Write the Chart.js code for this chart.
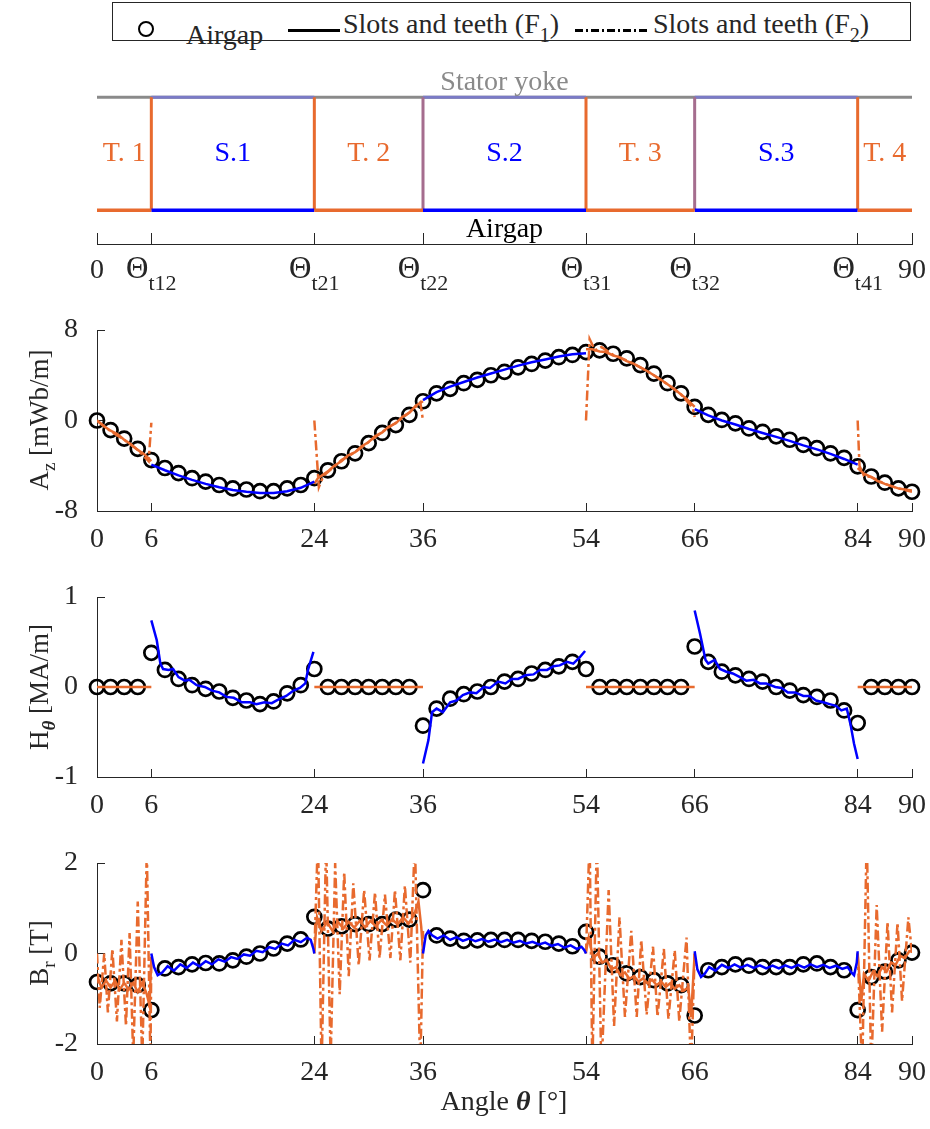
<!DOCTYPE html>
<html>
<head>
<meta charset="utf-8">
<title>Airgap / slots and teeth field comparison</title>
<script src="https://cdn.jsdelivr.net/npm/chart.js@4.4.0/dist/chart.umd.min.js"></script>
<style>
	body { margin: 0; background: #fff; font-family: 'Liberation Serif', 'Times New Roman', serif; color: #262626; }
	#page { position: relative; width: 930px; height: 1129px; overflow: hidden; }
	canvas { position: absolute; left: 0; }
	.txt { position: absolute; font-size: 28px; line-height: 28px; white-space: nowrap; }
	.sb { font-size: 20px; position: relative; top: 9px; }
	.ytitle { position: absolute; font-size: 27px; line-height: 27px; white-space: nowrap; transform: translate(-50%, -50%) rotate(-90deg); }
	.ysb { font-size: 19px; position: relative; top: 7px; }
</style>
</head>
<body>
<div id="page">

	<!-- legend -->
	<div style="position:absolute; left:112px; top:2px; width:797px; height:37px; border:1px solid #262626;"></div>
	<div style="position:absolute; left:138px; top:21px; width:12px; height:12px; border:2.8px solid #000; border-radius:50%;"></div>
	<div class="txt" style="left:186px; top:21px;">Airgap</div>
	<div style="position:absolute; left:288px; top:29px; width:52px; height:2.5px; background:#000;"></div>
	<div class="txt" style="left:343px; top:10px;">Slots and teeth (F<span class="sb">1</span>)</div>
	<div style="position:absolute; left:575px; top:29px; width:75px; height:2.5px; background:repeating-linear-gradient(to right, #000 0 8px, transparent 8px 11px, #000 11px 13px, transparent 13px 16px);"></div>
	<div class="txt" style="left:653px; top:10px;">Slots and teeth (F<span class="sb">2</span>)</div>

	<canvas id="schem" width="930" height="244" style="top:50px;"></canvas>
	<canvas id="azChart" width="930" height="261" style="top:300px;"></canvas>
	<canvas id="hChart" width="930" height="260" style="top:567px;"></canvas>
	<canvas id="brChart" width="930" height="261" style="top:833px;"></canvas>

	<div class="ytitle" style="left:40px; top:420px;">A<span class="ysb">z</span> [mWb/m]</div>
	<div class="ytitle" style="left:40px; top:687px;">H<span class="ysb"><b><i>θ</i></b></span> [MA/m]</div>
	<div class="ytitle" style="left:40px; top:953px;">B<span class="ysb">r</span> [T]</div>
	<div class="txt" style="left:504px; top:1101px; transform:translate(-50%,-50%);">Angle <b><i>θ</i></b> [°]</div>
</div>

<script type="text/javascript">
// ---- data ----
// angular positions (deg) of the slot / tooth boundaries
const xTicks = [0, 6, 24, 36, 54, 66, 84, 90];
const boundaryLabels = [['0', ''], ['Θ', 't12'], ['Θ', 't21'], ['Θ', 't22'], ['Θ', 't31'], ['Θ', 't32'], ['Θ', 't41'], ['90', '']];

// regions of the schematic
const toothSpans = [[0, 6], [24, 36], [54, 66], [84, 90]];
const slotSpans = [[6, 24], [36, 54], [66, 84]];
const regionNames = ['T. 1', 'S.1', 'T. 2', 'S.2', 'T. 3', 'S.3', 'T. 4'];
const regionCentres = [3, 15, 30, 45, 60, 75, 87];

// airgap samples (circles)
const theta = [0, 1.5, 3, 4.5, 6, 7.5, 9, 10.5, 12, 13.5, 15, 16.5, 18, 19.5, 21, 22.5, 24, 25.5, 27, 28.5,
	30, 31.5, 33, 34.5, 36, 37.5, 39, 40.5, 42, 43.5, 45, 46.5, 48, 49.5, 51, 52.5, 54, 55.5, 57, 58.5,
	60, 61.5, 63, 64.5, 66, 67.5, 69, 70.5, 72, 73.5, 75, 76.5, 78, 79.5, 81, 82.5, 84, 85.5, 87, 88.5, 90];

const azAirgap = [0, -0.85, -1.6, -2.5, -3.5, -4.2, -4.65, -5.1, -5.4, -5.7,
	-6.0, -6.1, -6.25, -6.25, -6.0, -5.7, -5.1, -4.4, -3.6, -2.9,
	-2.0, -1.1, -0.4, 0.5, 1.7, 2.4, 2.8, 3.3, 3.6, 4.0,
	4.3, 4.7, 5.0, 5.3, 5.6, 5.8, 6.05, 6.2, 5.9, 5.5,
	4.9, 4.15, 3.3, 2.4, 1.2, 0.5, 0.05, -0.25, -0.7, -1.0,
	-1.4, -1.7, -2.15, -2.45, -2.9, -3.3, -4.05, -4.95, -5.5, -6.0,
	-6.3];

const hAirgap = [0, 0, 0, 0, 0.38, 0.19, 0.09, 0.02, -0.02, -0.05,
	-0.12, -0.15, -0.19, -0.16, -0.07, 0.02, 0.2, 0, 0, 0,
	0, 0, 0, 0, -0.43, -0.24, -0.13, -0.08, -0.05, 0.0,
	0.06, 0.09, 0.15, 0.19, 0.23, 0.28, 0.2, 0, 0, 0,
	0, 0, 0, 0, 0.45, 0.28, 0.17, 0.13, 0.09, 0.06,
	0.0, -0.04, -0.09, -0.11, -0.15, -0.26, -0.4, 0, 0, 0,
	0];

const brAirgap = [-0.63, -0.66, -0.66, -0.7, -1.25, -0.33, -0.3, -0.24, -0.21, -0.22,
	-0.15, -0.07, 0.0, 0.11, 0.22, 0.31, 0.81, 0.55, 0.6, 0.65,
	0.65, 0.65, 0.75, 0.75, 1.4, 0.4, 0.33, 0.28, 0.29, 0.3,
	0.3, 0.3, 0.28, 0.26, 0.22, 0.16, 0.48, -0.07, -0.26, -0.44,
	-0.52, -0.59, -0.66, -0.7, -1.37, -0.37, -0.3, -0.24, -0.27, -0.3,
	-0.3, -0.3, -0.24, -0.22, -0.3, -0.37, -1.25, -0.52, -0.4, -0.15,
	0.02];

// A_z, slots and teeth (null = break between regions)
const azSlotX = [6, 7.5, 9, 10.5, 12, 13.5, 15, 16.5, 18, 19.5, 21, 22.5, 24, null,
	36, 37.5, 39, 40.5, 42, 43.5, 45, 46.5, 48, 49.5, 51, 52.5, 54, null,
	66, 67.5, 69, 70.5, 72, 73.5, 75, 76.5, 78, 79.5, 81, 82.5, 84];
const azSlotY = [-3.9, -4.4, -4.85, -5.25, -5.6, -5.9, -6.15, -6.3, -6.4, -6.4, -6.25, -5.95, -5.4, null,
	1.8, 2.5, 3.0, 3.4, 3.8, 4.15, 4.5, 4.85, 5.15, 5.4, 5.65, 5.85, 5.95, null,
	1.0, 0.45, 0.0, -0.35, -0.75, -1.1, -1.45, -1.8, -2.2, -2.55, -2.95, -3.4, -3.9];

const azToothX = [0, 0.75, 1.5, 2.25, 3, 3.75, 4.5, 5.25, 6, null,
	24, 24.4, 25.5, 26.2, 27, 27.7, 28.5, 29.2, 30, 30.7, 31.5, 32.2, 33, 33.7, 34.5, 35.2, 36, null,
	54, 54.7, 55.5, 56.2, 57, 57.7, 58.5, 59.2, 60, 60.7, 61.5, 62.2, 63, 63.7, 64.5, 65.2, 66, null,
	84, 84.7, 85.5, 86.2, 87, 87.7, 88.5, 89.2, 90];
const azToothY = [0, -0.5, -0.9, -1.2, -1.7, -2.1, -2.6, -3.0, -3.6, null,
	-5.6, -5.1, -4.5, -4.0, -3.6, -3.1, -2.8, -2.3, -1.9, -1.4, -1.05, -0.55, -0.25, 0.3, 0.7, 1.3, 1.7, null,
	6.3, 6.3, 6.1, 6.05, 5.75, 5.6, 5.25, 5.05, 4.7, 4.4, 4.0, 3.65, 3.2, 2.8, 2.3, 1.85, 1.2, null,
	-4.2, -4.7, -5.0, -5.35, -5.6, -5.8, -6.0, -6.1, -6.2];

const azF2X = [0, 1.5, 3, 4.5, 5.7, 6, null,
	24, 24.5, 25, 26, 27, 28.5, 30, 31.5, 33, 34.5, 35.7, 36, null,
	54, 54.4, 55, 55.7, 57, 58.5, 60, 61.5, 63, 64.5, 65.8, 66, null,
	84, 84.2, 84.7, 85.5, 87, 88.5, 90];
const azF2Y = [0, -0.95, -1.7, -2.6, -3.6, -0.2, null,
	0, -5.9, -4.9, -4.2, -3.5, -2.8, -1.9, -1.0, -0.2, 0.7, 1.6, 0, null,
	0, 7.2, 6.2, 6.5, 5.8, 5.3, 4.7, 4.0, 3.2, 2.3, 1.1, 0.3, null,
	0, -4.0, -4.9, -5.0, -5.6, -6.0, -6.3];

// H_theta
const hSlotX = [6.0, 6.6, 7.0, 7.3, 7.9, 8.4, 9.0, 9.7, 10.2, 11.0, 11.9, 12.7, 13.5, 14.3, 15.1, 16.0, 16.9, 17.6, 18.5, 19.3,
	20.2, 20.9, 21.7, 22.4, 23.0, 23.3, 23.9, null,
	36.0, 36.6, 37.0, 37.5, 38.2, 39.0, 39.7, 40.4, 41.2, 41.9, 42.7, 43.4, 44.3, 45.1, 45.8, 46.5, 47.3, 48.2, 48.9, 49.7,
	50.4, 51.1, 51.9, 52.6, 53.3, 53.9, null,
	66.0, 66.6, 67.2, 67.5, 68.2, 68.8, 69.5, 70.2, 71.0, 71.7, 72.5, 73.2, 73.9, 74.9, 75.6, 76.3, 77.1, 78.0, 78.7, 79.4,
	80.2, 80.9, 81.6, 82.2, 82.8, 83.2, 83.6, 84.0];
const hSlotY = [0.74, 0.52, 0.26, 0.2, 0.19, 0.2, 0.11, 0.07, 0.08, 0.02, 0.0, -0.04, -0.06, -0.11, -0.12, -0.17, -0.17, -0.19, -0.17, -0.18,
	-0.13, -0.1, -0.04, -0.01, 0.04, 0.19, 0.39, null,
	-0.85, -0.59, -0.28, -0.24, -0.28, -0.17, -0.15, -0.09, -0.06, -0.07, 0.0, -0.01, 0.06, 0.04, 0.09, 0.09, 0.13, 0.14, 0.19, 0.19,
	0.23, 0.24, 0.28, 0.26, 0.33, 0.4, null,
	0.85, 0.59, 0.3, 0.26, 0.3, 0.2, 0.17, 0.15, 0.11, 0.07, 0.08, 0.04, 0.04, 0.0, -0.01, -0.06, -0.06, -0.1, -0.1, -0.15,
	-0.17, -0.19, -0.21, -0.26, -0.24, -0.41, -0.63, -0.8];
const hToothX = [0, 6, null, 24, 36, null, 54, 66, null, 84, 90];
const hToothY = [0, 0, null, 0, 0, null, 0, 0, null, 0, 0];

// B_r
const brSlotX = [6.0, 6.3, 6.7, 7.2, 7.8, 8.5, 9.2, 9.9, 10.6, 11.3, 12.0, 12.7, 13.4, 14.1, 14.8, 15.5, 16.2, 16.9, 17.6, 18.3,
	19.0, 19.7, 20.4, 21.1, 21.8, 22.5, 23.2, 23.6, 23.9, 24.0, null,
	36.0, 36.3, 36.6, 37.0, 37.6, 38.3, 39.0, 39.7, 40.4, 41.1, 41.8, 42.5, 43.2, 43.9, 44.6, 45.3, 46.0, 46.7, 47.4, 48.1,
	48.8, 49.5, 50.2, 50.9, 51.6, 52.3, 53.0, 53.5, 53.8, 54.0, null,
	66.0, 66.3, 66.7, 67.1, 67.6, 68.3, 69.0, 69.7, 70.4, 71.1, 71.8, 72.5, 73.2, 73.9, 74.6, 75.3, 76.0, 76.7, 77.4, 78.1,
	78.8, 79.5, 80.2, 80.9, 81.6, 82.3, 82.9, 83.3, 83.6, 83.9, 84.0];
const brSlotY = [0.0, -0.3, -0.48, -0.42, -0.28, -0.38, -0.24, -0.32, -0.2, -0.28, -0.17, -0.24, -0.13, -0.18, -0.08, -0.12, -0.02, -0.05, 0.06, 0.03,
	0.14, 0.1, 0.22, 0.18, 0.3, 0.25, 0.35, 0.3, 0.1, 0.0, null,
	0.0, 0.4, 0.5, 0.4, 0.33, 0.4, 0.3, 0.36, 0.28, 0.33, 0.27, 0.32, 0.26, 0.31, 0.25, 0.3, 0.24, 0.28, 0.22, 0.26,
	0.2, 0.24, 0.17, 0.21, 0.13, 0.18, 0.1, 0.15, 0.08, 0.0, null,
	0.05, -0.35, -0.52, -0.45, -0.3, -0.38, -0.25, -0.32, -0.24, -0.31, -0.25, -0.32, -0.26, -0.33, -0.27, -0.33, -0.26, -0.32, -0.25, -0.31,
	-0.24, -0.3, -0.25, -0.32, -0.27, -0.34, -0.3, -0.42, -0.48, -0.2, 0.05];

const brToothX = [0, 0.5, 1.0, 1.5, 2.0, 2.5, 3.0, 3.5, 4.0, 4.5, 5.0, 5.5, 5.8, 6.0, null,
	24.0, 24.3, 24.8, 25.4, 26.0, 26.6, 27.2, 27.8, 28.4, 29.0, 29.6, 30.2, 30.8, 31.4, 32.0, 32.6, 33.2, 33.8, 34.4, 35.0, 35.5, 35.8, 36.0, null,
	54.0, 54.3, 54.8, 55.3, 55.8, 56.3, 56.8, 57.3, 57.8, 58.3, 58.8, 59.3, 59.8, 60.3, 60.8, 61.3, 61.8, 62.3, 62.8, 63.3, 63.8, 64.3, 64.8, 65.3, 65.6, 66.0, null,
	84.0, 84.4, 84.7, 85.2, 85.7, 86.2, 86.7, 87.2, 87.7, 88.2, 88.7, 89.2, 89.7, 90.0];
const brToothY = [-0.5, -0.75, -0.6, -0.75, -0.6, -0.8, -0.65, -0.8, -0.65, -0.85, -0.65, -0.9, -1.15, -0.1, null,
	0.05, 0.8, 0.5, 0.7, 0.5, 0.7, 0.55, 0.7, 0.57, 0.72, 0.58, 0.72, 0.6, 0.74, 0.62, 0.76, 0.64, 0.8, 0.66, 0.85, 1.15, 0.6, 0.05, null,
	0.05, 0.35, -0.1, 0.0, -0.2, -0.15, -0.35, -0.3, -0.48, -0.42, -0.56, -0.5, -0.62, -0.55, -0.66, -0.58, -0.7, -0.62, -0.74, -0.66, -0.78, -0.7, -0.82, -0.75, -1.4, 0.0, null,
	0.0, -1.05, -0.45, -0.6, -0.4, -0.5, -0.3, -0.4, -0.2, -0.25, -0.05, -0.1, 0.05, 0.05];

const brF2X = [0.0, 0.3, 0.8, 1.2, 1.7, 2.2, 2.7, 3.2, 3.6, 4.0, 4.5, 5.0, 5.5, 5.9, 6.0, null,
	24.0, 24.4, 24.8, 25.3, 25.8, 26.3, 26.8, 27.3, 27.8, 28.3, 28.9, 29.5, 30.1, 30.7, 31.2, 31.8, 32.4, 32.9, 33.5, 34.0, 34.6, 35.1, 35.7, 36.0, null,
	54.0, 54.4, 54.7, 55.2, 55.7, 56.5, 57.1, 57.7, 58.3, 59.0, 59.6, 60.1, 60.7, 61.4, 61.9, 62.6, 63.1, 63.8, 64.3, 65.1, 65.6, 66.0, null,
	84.0, 84.5, 85.0, 85.5, 86.1, 86.7, 87.3, 87.8, 88.4, 88.9, 89.6, 90.0];
const brF2Y = [0.0, -1.2, 0.0, -1.3, 0.1, -1.5, 0.3, -1.6, 0.45, -2.3, 1.15, -2.4, 2.3, -2.4, 0.0, null,
	0.0, 2.6, -2.6, 2.5, -2.4, 2.0, -0.9, 1.8, -0.5, 1.55, -0.26, 1.4, -0.15, 1.35, -0.1, 1.3, -0.1, 1.4, -0.15, 1.5, -0.2, 2.5, -2.6, 0.5, null,
	0.0, 2.6, -2.6, 2.6, -2.6, 1.4, -1.6, 0.8, -1.4, 0.5, -1.4, 0.3, -1.35, 0.15, -1.4, 0.1, -1.45, 0.07, -1.5, 0.35, -2.6, 0.0, null,
	0.0, -2.6, 2.6, -2.6, 1.07, -1.73, 0.7, -1.3, 0.68, -1.05, 0.8, 0.0];

// ---- styling ----
const fam = "'Liberation Serif', 'Times New Roman', serif";
const ORANGE = '#E86A2E';
const BLUE = '#0000FF';
const AX = '#262626';

Chart.defaults.font.family = fam;
Chart.defaults.font.size = 28;
Chart.defaults.color = AX;

// x/y pairs, null in the x list breaks the line
function pts(xs, ys) {
	let out = [];
	for (let i = 0; i < xs.length; i++) {
		if (xs[i] === null) out.push({x: xs[i - 1], y: null});
		else out.push({x: xs[i], y: ys[i]});
	}
	return out;
}

function lineSet(data, color, order, dash) {
	return {
		data: data, showLine: true, borderColor: color, backgroundColor: color,
		borderWidth: 2.5, borderDash: dash || [], pointRadius: 0, pointHoverRadius: 0,
		spanGaps: false, tension: 0, order: order, clip: 0
	};
}

function circleSet(ys) {
	return {
		data: pts(theta, ys), showLine: false, pointStyle: 'circle', pointRadius: 7,
		pointBorderWidth: 2.7, pointBorderColor: '#000', pointBackgroundColor: 'rgba(0,0,0,0)',
		order: 5, clip: false
	};
}

const DASHDOT = [10, 3.5, 3, 3.5];

function setTicks(list) {
	return function(scale) { scale.ticks = list.map(v => ({value: v})); };
}

// fixed axis sizes, and no extra room for the end labels so the plot box stays put
function fixX(h) {
	return function(s) { s.height = h; s.paddingLeft = 0; s.paddingRight = 0; };
}
function fixY(w) {
	return function(s) { s.width = w; s.paddingTop = 0; s.paddingBottom = 0; };
}

function panel(id, yLim, datasets) {
	return new Chart(document.getElementById(id), {
		type: 'scatter',
		data: {datasets: datasets},
		options: {
			responsive: false, animation: false, events: [],
			layout: {padding: {left: 0, right: 18, top: 30, bottom: 0}},
			plugins: {legend: {display: false}, tooltip: {enabled: false}},
			scales: {
				x: {
					type: 'linear', min: 0, max: 90,
					afterBuildTicks: setTicks(xTicks),
					afterFit: fixX(50),
					ticks: {autoSkip: false, maxRotation: 0, padding: 20, color: AX},
					grid: {drawOnChartArea: false, tickLength: -8, color: AX, lineWidth: 1},
					border: {color: AX, width: 1}
				},
				y: {
					type: 'linear', min: -yLim, max: yLim,
					afterBuildTicks: setTicks([-yLim, 0, yLim]),
					afterFit: fixY(97),
					ticks: {padding: 27, color: AX},
					grid: {drawOnChartArea: false, tickLength: -8, color: AX, lineWidth: 1},
					border: {color: AX, width: 1}
				}
			}
		}
	});
}

// ---- schematic of slots and teeth ----
let yokeLine = [{x: 0, y: 1}, {x: 90, y: 1}];
let slotTop = [], slotBase = [], toothBase = [], toothEdge = [], mixedEdge = [];
slotSpans.forEach(s => {
	slotTop.push({x: s[0], y: 1}, {x: s[1], y: 1}, {x: s[1], y: null});
	slotBase.push({x: s[0], y: 0}, {x: s[1], y: 0}, {x: s[1], y: null});
});
toothSpans.forEach(s => {
	toothBase.push({x: s[0], y: 0}, {x: s[1], y: 0}, {x: s[1], y: null});
});
// tooth flanks; the two flanks at the start of slots 2 and 3 come out mixed
[6, 24, 54, 84].forEach(v => toothEdge.push({x: v, y: 0}, {x: v, y: 1}, {x: v, y: null}));
[36, 66].forEach(v => mixedEdge.push({x: v, y: 0}, {x: v, y: 1}, {x: v, y: null}));

const schemDatasets = [
	Object.assign(lineSet(toothBase, ORANGE, 1), {borderWidth: 3.5, clip: false}),
	Object.assign(lineSet(slotBase, BLUE, 1), {borderWidth: 3.5, clip: false}),
	Object.assign(lineSet(toothEdge, ORANGE, 2), {borderWidth: 3, clip: false}),
	Object.assign(lineSet(mixedEdge, '#A56D8E', 2), {borderWidth: 3, clip: false}),
	Object.assign(lineSet(slotTop, '#7B7BC6', 3), {borderWidth: 3, clip: false}),
	Object.assign(lineSet(yokeLine, '#8A8A8A', 4), {borderWidth: 3, clip: false})
];

const regionColours = [ORANGE, BLUE, ORANGE, BLUE, ORANGE, BLUE, ORANGE];

const schemText = {
	id: 'schemText',
	afterDraw(chart) {
		const ctx = chart.ctx, x = chart.scales.x, y = chart.scales.y;
		ctx.save();
		ctx.textAlign = 'center';
		ctx.textBaseline = 'middle';
		ctx.font = '28px ' + fam;
		regionNames.forEach((t, i) => {
			ctx.fillStyle = regionColours[i];
			ctx.fillText(t, x.getPixelForValue(regionCentres[i]), y.getPixelForValue(0.5));
		});
		ctx.fillStyle = '#8A8A8A';
		ctx.fillText('Stator yoke', x.getPixelForValue(45), y.getPixelForValue(1.126));
		ctx.fillStyle = '#000';
		ctx.fillText('Airgap', x.getPixelForValue(45), y.getPixelForValue(-0.176));

		// boundary labels with subscripts
		ctx.textAlign = 'left';
		ctx.textBaseline = 'alphabetic';
		ctx.fillStyle = AX;
		const base = x.top;
		xTicks.forEach((v, i) => {
			const main = boundaryLabels[i][0], sub = boundaryLabels[i][1];
			const mainFont = (sub ? '31px ' : '28px ') + fam;
			ctx.font = mainFont;
			const w1 = ctx.measureText(main).width;
			ctx.font = '22px ' + fam;
			const w2 = sub ? ctx.measureText(sub).width : 0;
			const left = x.getPixelForValue(v) - (w1 + w2) / 2;
			ctx.font = mainFont;
			ctx.fillText(main, left, base + 34);
			if (sub) {
				ctx.font = '22px ' + fam;
				ctx.fillText(sub, left + w1, base + 46);
			}
		});
		ctx.restore();
	}
};

new Chart(document.getElementById('schem'), {
	type: 'scatter',
	data: {datasets: schemDatasets},
	options: {
		responsive: false, animation: false, events: [],
		layout: {padding: {left: 97, right: 18, top: 36, bottom: 0}},
		plugins: {legend: {display: false}, tooltip: {enabled: false}},
		scales: {
			x: {
				type: 'linear', min: 0, max: 90,
				afterBuildTicks: setTicks(xTicks),
				afterFit: fixX(50),
				ticks: {display: false},
				grid: {drawOnChartArea: false, tickLength: -11, color: AX, lineWidth: 1},
				border: {color: AX, width: 1}
			},
			y: {type: 'linear', display: false, min: -0.3, max: 1.1}
		}
	},
	plugins: [schemText]
});

// ---- field panels ----
panel('azChart', 8, [
	lineSet(pts(azSlotX, azSlotY), BLUE, 0),
	lineSet(pts(azToothX, azToothY), ORANGE, 1),
	lineSet(pts(azF2X, azF2Y), ORANGE, 2, DASHDOT),
	circleSet(azAirgap)
]);

panel('hChart', 1, [
	lineSet(pts(hSlotX, hSlotY), BLUE, 0),
	lineSet(pts(hToothX, hToothY), ORANGE, 1),
	circleSet(hAirgap)
]);

panel('brChart', 2, [
	lineSet(pts(brSlotX, brSlotY), BLUE, 0),
	lineSet(pts(brToothX, brToothY), ORANGE, 1),
	lineSet(pts(brF2X, brF2Y), ORANGE, 2, DASHDOT),
	circleSet(brAirgap)
]);
</script>
</body>
</html>
